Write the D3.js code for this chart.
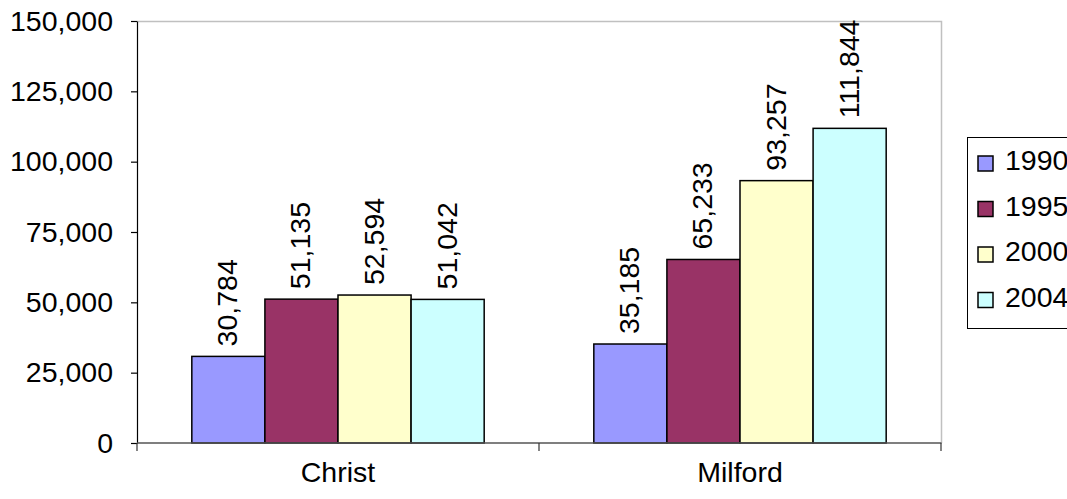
<!DOCTYPE html>
<html>
<head>
<meta charset="utf-8">
<script src="https://cdn.jsdelivr.net/npm/d3@7"></script>
<style>
  html, body { margin: 0; padding: 0; background: #fff; }
  svg { display: block; font-family: "Liberation Sans", Arial, sans-serif; }
</style>
</head>
<body>
<svg id="chart" width="1067" height="499"></svg>
<script>
// Population by place and year
const categories = ["Christ", "Milford"];
const years = ["1990", "1995", "2000", "2004"];
const values1990 = [30784, 35185];
const values1995 = [51135, 65233];
const values2000 = [52594, 93257];
const values2004 = [51042, 111844];
const yTicks = [0, 25000, 50000, 75000, 100000, 125000, 150000];
const colors = ["#9999FF", "#993366", "#FFFFCC", "#CCFFFF"];

const seriesValues = [values1990, values1995, values2000, values2004];

const svg = d3.select("#chart");
const plot = { left: 137, right: 941, top: 21, bottom: 443 };
const fontSize = 28.5;

const x0 = d3.scaleBand()
  .domain(categories)
  .range([plot.left, plot.right])
  .paddingInner(0)
  .paddingOuter(0);

// Bars occupy 4 of 5.5 bar-widths in each category band (gap = 150%)
const barW = x0.bandwidth() / 5.5;
const x1 = d3.scaleBand()
  .domain(years)
  .range([0.75 * barW, 4.75 * barW])
  .padding(0);

const y = d3.scaleLinear().domain([0, 150000]).range([plot.bottom, plot.top]);
const fmt = d3.format(",");

// Plot area frame (light grey top and right edges)
svg.append("path")
  .attr("d", `M${plot.left},${plot.top + 0.5}H${plot.right + 0.5}V${plot.bottom}`)
  .attr("fill", "none")
  .attr("stroke", "#c0c0c0")
  .attr("stroke-width", 1.5);

// Bars
const groups = svg.append("g").selectAll("g")
  .data(categories)
  .join("g")
  .attr("transform", d => `translate(${x0(d)},0)`);

groups.selectAll("rect")
  .data((c, ci) => years.map((yr, si) => ({ yr, si, v: seriesValues[si][ci] })))
  .join("rect")
  .attr("x", d => x1(d.yr))
  .attr("y", d => y(d.v))
  .attr("width", x1.bandwidth())
  .attr("height", d => y(0) - y(d.v))
  .attr("fill", d => colors[d.si])
  .attr("stroke", "#000")
  .attr("stroke-width", 1.5);

// Value labels, rotated above each bar
groups.selectAll("text")
  .data((c, ci) => years.map((yr, si) => ({ yr, si, v: seriesValues[si][ci] })))
  .join("text")
  .attr("transform", d => `translate(${x1(d.yr) + x1.bandwidth() / 2 + 9},${y(d.v) - 10}) rotate(-90)`)
  .attr("text-anchor", "start")
  .attr("font-size", fontSize)
  .attr("fill", "#000")
  .text(d => fmt(d.v));

// Y axis
const yAxis = d3.axisLeft(y)
  .tickValues(yTicks)
  .tickFormat(fmt)
  .tickSizeInner(6)
  .tickSizeOuter(0)
  .tickPadding(18);

const gy = svg.append("g")
  .attr("transform", `translate(${plot.left},0)`)
  .call(yAxis);
gy.select(".domain").attr("stroke", "#000").attr("stroke-width", 1.2);
gy.selectAll(".tick line").attr("stroke", "#000").attr("stroke-width", 1.2);
gy.selectAll(".tick text")
  .attr("font-size", fontSize)
  .attr("font-family", "Liberation Sans, Arial, sans-serif")
  .attr("fill", "#000");

// X axis with ticks between categories
const gx = svg.append("g")
  .attr("transform", `translate(0,${plot.bottom})`);
gx.append("line")
  .attr("x1", plot.left).attr("x2", plot.right + 0.5)
  .attr("stroke", "#555").attr("stroke-width", 1.5);
const boundaries = categories.map(c => x0(c)).concat([x0(categories[categories.length - 1]) + x0.bandwidth()]);
gx.selectAll("line.tick")
  .data(boundaries)
  .join("line")
  .attr("class", "tick")
  .attr("x1", d => d).attr("x2", d => d)
  .attr("y1", 0).attr("y2", 8)
  .attr("stroke", "#333").attr("stroke-width", 1.2);
gx.selectAll("text")
  .data(categories)
  .join("text")
  .attr("x", d => x0(d) + x0.bandwidth() / 2)
  .attr("y", 39)
  .attr("text-anchor", "middle")
  .attr("font-size", fontSize)
  .attr("fill", "#000")
  .text(d => d);

// Legend
const legend = svg.append("g").attr("transform", "translate(967,137)");
legend.append("rect")
  .attr("x", 0.5).attr("y", 0.5)
  .attr("width", 120).attr("height", 191)
  .attr("fill", "#fff")
  .attr("stroke", "#000")
  .attr("stroke-width", 1);
const items = legend.selectAll("g.item")
  .data(years)
  .join("g")
  .attr("class", "item")
  .attr("transform", (d, i) => `translate(0,${23 + i * 45.5})`);
items.append("rect")
  .attr("x", 11).attr("y", -4)
  .attr("width", 15).attr("height", 15)
  .attr("fill", (d, i) => colors[i])
  .attr("stroke", "#000")
  .attr("stroke-width", 1.5);
items.append("text")
  .attr("x", 38)
  .attr("y", 10)
  .attr("font-size", fontSize)
  .attr("fill", "#000")
  .text(d => d);
</script>
</body>
</html>
